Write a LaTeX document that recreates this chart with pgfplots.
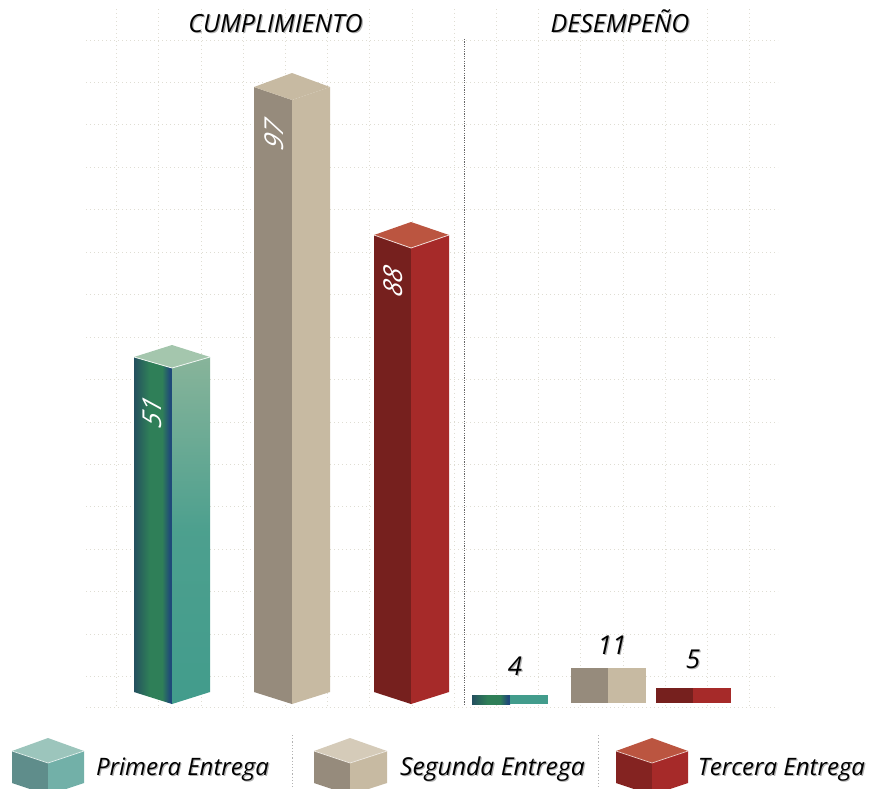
\documentclass[border=0pt]{standalone}
\usepackage{fontspec}
\setmainfont{Open Sans}
\usepackage{pgfplots}
\pgfplotsset{compat=1.18}

\definecolor{gdark}{HTML}{24505F}
\definecolor{gmid}{HTML}{2F7F58}
\definecolor{gblue}{HTML}{1F4A78}
\definecolor{gtop}{HTML}{A4C6AD}
\definecolor{gright}{HTML}{429C8C}
\definecolor{gfade}{HTML}{88B49A}
\definecolor{bleft}{HTML}{968B7C}
\definecolor{bright}{HTML}{C7BAA2}
\definecolor{rleft}{HTML}{76201E}
\definecolor{rright}{HTML}{A62A29}
\definecolor{rtop}{HTML}{BB5540}
\definecolor{griddot}{HTML}{DFDDD3}

% left face of the green bars: wide green band, blue edge
\pgfdeclarehorizontalshading{gbar}{100bp}{color(0bp)=(gdark); color(25bp)=(gdark); color(45bp)=(gmid); color(62bp)=(gmid); color(72bp)=(gblue); color(75bp)=(gblue); color(100bp)=(gblue)}
\pgfdeclareverticalshading{gface}{100bp}{color(0bp)=(gright); color(25bp)=(gright); color(50bp)=(gright!85!gfade); color(75bp)=(gfade); color(100bp)=(gfade)}

% a polygon through the axis, coordinates are picture pixels
\newcommand{\face}[2]{\addplot[draw=none,#1] coordinates {#2} --cycle;}
\newcommand{\shadowtext}[4]{%
  \node[text=black,opacity=.3,font=\itshape\fontsize{#3}{#3}\selectfont,anchor=base] at (axis cs:#1+1.2,#2+1.2) {#4};
  \node[text=black,font=\itshape\fontsize{#3}{#3}\selectfont,anchor=base] at (axis cs:#1,#2) {#4};}
\newcommand{\facelabel}[3]{%
  \node[text=white,font=\itshape\fontsize{26}{26}\selectfont,cm={0,1,-1,0.33,(0,0)},anchor=center] at (axis cs:#1,#2) {#3};}

\begin{document}
\begin{tikzpicture}
% hidden axis does not reserve its box
\path[use as bounding box] (0,0) rectangle (869pt,788pt);
\begin{axis}[
    width=869pt,height=788pt,scale only axis,
    xmin=0,xmax=869,ymin=0,ymax=788,y dir=reverse,
    axis lines=none,ticks=none,clip=true,
]
% dotted background grid
\pgfplotsinvokeforeach{116.7,158.9,201.1,243.3,285.5,327.7,369.9,412.1,454.3,496.5,538.7,580.9,623.1,665.3,707.5,749.7}{
  \addplot[draw=griddot,line width=.9pt,dash pattern=on 1.4pt off 2.6pt] coordinates {(#1,9) (#1,708)};
}
\pgfplotsinvokeforeach{40,82.4,124.9,167.3,209.8,252.2,294.7,337.1,379.6,422,464.5,506.9,549.4,591.8,634.3,676.7,707}{
  \addplot[draw=griddot,line width=.9pt,dash pattern=on 1.4pt off 2.6pt] coordinates {(86,#1) (778,#1)};
}
% separators
\addplot[draw=black!60,line width=1pt,dash pattern=on 1.2pt off 1.2pt] coordinates {(464,39) (464,706)};
\addplot[draw=black!30,line width=.8pt,dash pattern=on 1.2pt off 2pt] coordinates {(292,735) (292,788)};
\addplot[draw=black!30,line width=.8pt,dash pattern=on 1.2pt off 2pt] coordinates {(598,735) (598,788)};

% Primera Entrega, cumplimiento
\face{shade,shading=gbar}{(134,357) (172,368) (172,704) (134,692)}
\face{shade,shading=gface}{(172,368) (210,357) (210,692) (172,704)}
\face{fill=gtop}{(134,357) (172,345) (210,357) (172,368)}
\addplot[draw=white!85!gtop,line width=.8pt] coordinates {(134,357) (172,368) (210,357)};
% Segunda Entrega, cumplimiento
\face{fill=bleft}{(254,87) (292,100) (292,704) (254,692)}
\face{fill=bright}{(292,100) (330,87) (330,692) (292,704)}
\face{fill=bright}{(254,87) (292,73) (330,87) (292,100)}
% Tercera Entrega, cumplimiento
\face{fill=rleft}{(374,235) (411,248) (411,704) (374,692)}
\face{fill=rright}{(411,248) (449,235) (449,692) (411,704)}
\face{fill=rtop}{(374,235) (411,222) (449,235) (411,248)}
\addplot[draw=white!80!rtop,line width=.8pt] coordinates {(374,235) (411,248) (449,235)};

% desempeno
\face{shade,shading=gbar}{(472,695) (510,695) (510,704) (472,704)}
\face{fill=gright}{(510,695) (548,695) (548,704) (510,704)}
\face{fill=bleft}{(571,668) (608,668) (608,703) (571,703)}
\face{fill=bright}{(608,668) (646,668) (646,703) (608,703)}
\face{fill=rleft}{(656,688) (693,688) (693,703) (656,703)}
\face{fill=rright}{(693,688) (731,688) (731,703) (693,703)}

% legend cubes
\definecolor{cubetop}{HTML}{9CC5BC}
\definecolor{cubeleft}{HTML}{5F8D8B}
\definecolor{cuberight}{HTML}{72B0A8}
\face{fill=cubetop}{(12,751) (48,738) (84,751) (48,763)}
\face{fill=cubeleft}{(12,751) (48,763) (48,795) (12,783)}
\face{fill=cuberight}{(48,763) (84,751) (84,783) (48,795)}
\addplot[draw=white!70!cubetop,line width=.7pt] coordinates {(12,751) (48,763) (84,751)};
\face{fill=bright!75!white}{(314,751) (350,738) (387,751) (350,763)}
\face{fill=bleft}{(314,751) (350,763) (350,795) (314,783)}
\face{fill=bright}{(350,763) (387,751) (387,783) (350,795)}
\addplot[draw=white!70!bright,line width=.7pt] coordinates {(314,751) (350,763) (387,751)};
\face{fill=rtop}{(616,751) (652,738) (688,751) (652,763)}
\face{fill=rleft!70!rright}{(616,751) (652,763) (652,795) (616,783)}
\face{fill=rright}{(652,763) (688,751) (688,783) (652,795)}
\addplot[draw=white!70!rtop,line width=.7pt] coordinates {(616,751) (652,763) (688,751)};

% text
\shadowtext{275.5}{32}{25}{CUMPLIMIENTO}
\shadowtext{620}{32}{25}{DESEMPEÑO}
\shadowtext{182.5}{775}{24}{Primera Entrega}
\shadowtext{492.5}{775}{24.7}{Segunda Entrega}
\shadowtext{781.5}{775}{24}{Tercera Entrega}
\shadowtext{515}{675}{26}{4}
\shadowtext{612}{654}{26}{11}
\shadowtext{693}{668}{26}{5}
\facelabel{152}{412}{51}
\facelabel{274}{134}{97}
\facelabel{393}{281}{88}
\end{axis}
\end{tikzpicture}
\end{document}
